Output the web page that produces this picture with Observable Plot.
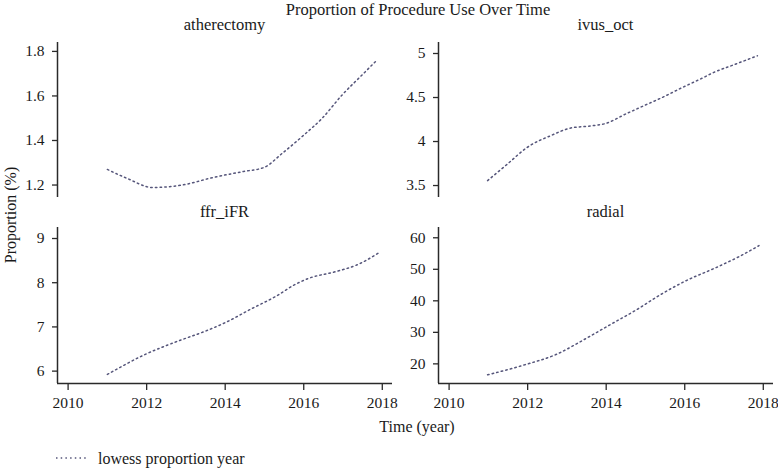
<!DOCTYPE html>
<html>
<head>
<meta charset="utf-8">
<script src="https://cdn.jsdelivr.net/npm/d3@7"></script>
<script src="https://cdn.jsdelivr.net/npm/@observablehq/plot@0.6"></script>
<style>
  html, body { margin: 0; padding: 0; background: #fff; }
  #chart { position: relative; width: 778px; height: 469px; overflow: hidden; background: #fff; font-family: "Liberation Serif", "DejaVu Serif", serif; }
  #chart > svg, #chart > .panel { position: absolute; }
  #chart text { font-family: "Liberation Serif", "DejaVu Serif", serif; }
</style>
</head>
<body>
<div id="chart"></div>
<script>
// ---- Data ----
const xTicks = [2010, 2012, 2014, 2016, 2018];

const athYear = [2011.0, 2011.5, 2012.15, 2012.91, 2013.67, 2014.44, 2014.99, 2015.45, 2015.96, 2016.47, 2016.98, 2017.49, 2017.87];
const athVal  = [1.270, 1.230, 1.189, 1.200, 1.233, 1.260, 1.279, 1.342, 1.418, 1.500, 1.605, 1.695, 1.762];
const athTicks = [1.2, 1.4, 1.6, 1.8];

const ivusYear = [2010.98, 2011.49, 2011.99, 2012.59, 2013.10, 2013.61, 2013.99, 2014.50, 2014.96, 2015.43, 2015.94, 2016.40, 2016.74, 2017.25, 2017.85];
const ivusVal  = [3.556, 3.746, 3.934, 4.067, 4.154, 4.177, 4.206, 4.313, 4.407, 4.501, 4.614, 4.710, 4.785, 4.872, 4.974];
const ivusTicks = [3.5, 4, 4.5, 5];

const ffrYear = [2011.0, 2011.98, 2012.74, 2013.50, 2014.01, 2014.69, 2015.28, 2015.79, 2016.13, 2016.81, 2017.40, 2017.90];
const ffrVal  = [5.925, 6.385, 6.66, 6.906, 7.10, 7.42, 7.686, 7.965, 8.10, 8.25, 8.42, 8.67];
const ffrTicks = [6, 7, 8, 9];

const radYear = [2010.98, 2011.95, 2012.72, 2013.48, 2014.07, 2014.75, 2015.43, 2016.02, 2016.79, 2017.38, 2017.89];
const radVal  = [16.52, 19.79, 22.95, 28.0, 32.2, 37.0, 42.3, 46.3, 50.5, 54.0, 57.5];
const radTicks = [20, 30, 40, 50, 60];

const panelTitles = ["atherectomy", "ivus_oct", "ffr_iFR", "radial"];
const chartTitle = "Proportion of Procedure Use Over Time";
const yTitle = "Proportion (%)";
const xTitle = "Time (year)";
const legendLabel = "lowess proportion year";

// ---- Layout ----
const chart = document.getElementById("chart");
const FONT = "'Liberation Serif', 'DejaVu Serif', serif";
const xDomain = [2009.73, 2018.26];
const plotW = 335;
const lineColor = "#55557a";
const axisColor = "#2a2a2a";

function panel({years, vals, yDomain, yTicks, showX, axisLeft, axisTop, plotH}) {
  const data = years.map((t, i) => ({t, v: vals[i]}));
  const ml = 60, mr = 8, mt = 10, mb = showX ? 48 : 6;
  const marks = [
    Plot.axisY({ticks: yTicks, tickSize: 5, tickPadding: 8, tickFormat: d => String(d), label: null,
                stroke: axisColor, strokeWidth: 1.3, fontSize: 15.5, fill: "#1a1a1a"}),
    Plot.ruleX([xDomain[0]], {stroke: axisColor, strokeWidth: 1.5}),
  ];
  if (showX) {
    marks.push(Plot.axisX({ticks: xTicks, tickSize: 7, tickPadding: 6, tickFormat: d => String(d), label: null,
                           stroke: axisColor, strokeWidth: 1.3, fontSize: 15.5, fill: "#1a1a1a"}));
    marks.push(Plot.ruleY([yDomain[0]], {stroke: axisColor, strokeWidth: 1.5}));
  }
  marks.push(Plot.line(data, {x: "t", y: "v", curve: "monotone-x", stroke: lineColor,
                              strokeWidth: 1.5, strokeDasharray: "1.5,3.2"}));
  const svg = Plot.plot({
    width: ml + plotW + mr,
    height: mt + plotH + mb,
    marginLeft: ml, marginRight: mr, marginTop: mt, marginBottom: mb,
    x: {domain: xDomain, ...(showX ? {} : {axis: null})},
    y: {domain: yDomain},
    style: {fontFamily: FONT, fontSize: "15.5px", background: "transparent", overflow: "visible"},
    marks
  });
  svg.classList.add("panel");
  svg.style.left = (axisLeft - ml) + "px";
  svg.style.top = (axisTop - mt) + "px";
  chart.appendChild(svg);
}

panel({years: athYear, vals: athVal, yDomain: [1.144, 1.840], yTicks: athTicks, showX: false, axisLeft: 57, axisTop: 42, plotH: 155});
panel({years: ivusYear, vals: ivusVal, yDomain: [3.364, 5.125], yTicks: ivusTicks, showX: false, axisLeft: 438, axisTop: 42, plotH: 155});
panel({years: ffrYear, vals: ffrVal, yDomain: [5.72, 9.249], yTicks: ffrTicks, showX: true, axisLeft: 57, axisTop: 227, plotH: 156});
panel({years: radYear, vals: radVal, yDomain: [13.77, 63.26], yTicks: radTicks, showX: true, axisLeft: 438, axisTop: 227, plotH: 156});

// ---- Titles, axis labels, legend ----
const ov = d3.select(chart).append("svg")
  .attr("width", 778).attr("height", 469)
  .style("left", "0px").style("top", "0px").style("pointer-events", "none")
  .style("font-family", FONT).style("fill", "#1a1a1a");

ov.append("text").attr("x", 418).attr("y", 14.5).attr("text-anchor", "middle")
  .style("font-size", "16.5px").text(chartTitle);

const titlePos = [[224.5, 30], [605.5, 30], [224.5, 217], [605.5, 217]];
panelTitles.forEach((t, i) => {
  ov.append("text").attr("x", titlePos[i][0]).attr("y", titlePos[i][1]).attr("text-anchor", "middle")
    .style("font-size", "16.5px").text(t);
});

ov.append("text").attr("transform", "translate(16,215) rotate(-90)").attr("text-anchor", "middle")
  .style("font-size", "16px").text(yTitle);

ov.append("text").attr("x", 417).attr("y", 432).attr("text-anchor", "middle")
  .style("font-size", "16px").text(xTitle);

ov.append("line").attr("x1", 56).attr("x2", 86).attr("y1", 458).attr("y2", 458)
  .attr("stroke", lineColor).attr("stroke-width", 1.5).attr("stroke-dasharray", "1.5,3.2");
ov.append("text").attr("x", 98).attr("y", 463.5).style("font-size", "16px").text(legendLabel);
</script>
</body>
</html>
